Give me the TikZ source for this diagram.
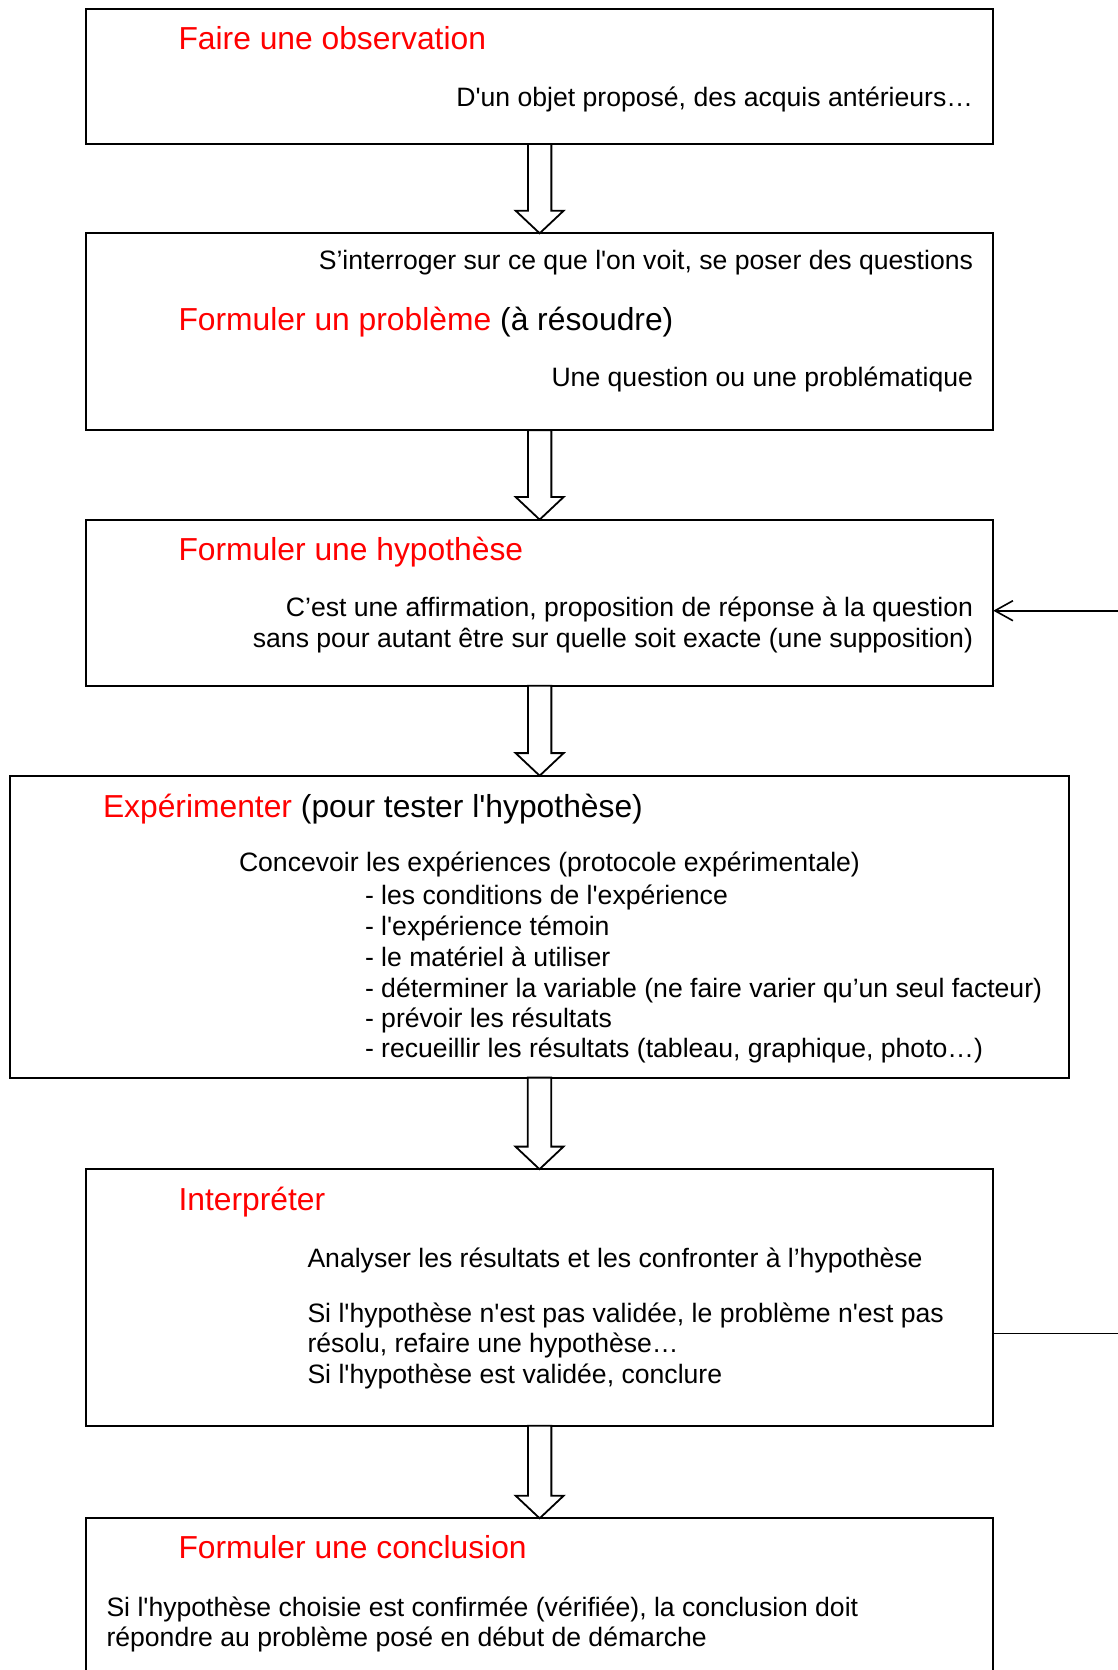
\documentclass[tikz,border=0pt]{standalone}
\usepackage{fontspec}
\setmainfont{Liberation Sans}[Ligatures=TeXOff]
\usetikzlibrary{arrows.meta,calc}
\tikzset{
  box/.style={draw,line width=1pt,rectangle,inner sep=0pt,outer sep=0pt,minimum width=453.65pt},
  txt/.style={inner sep=0pt,outer sep=0pt,font=\fontsize{13.3pt}{15.45pt}\selectfont},
  hd/.style={inner sep=0pt,outer sep=0pt,font=\fontsize{15.9pt}{19pt}\selectfont},
  barrow/.style={draw,line width=0.9pt,fill=white,line join=miter},
  fb/.style={line width=0.8pt}
}
\newcommand\blockarrow[2]{%
  \draw[barrow] let \p1=(#1.south), \p2=(#2.north) in
  (\x1-5.85pt,\y1) -- (\x1-5.85pt,\y2+11.3pt) -- (\x1-12pt,\y2+11.3pt) -- (\x1,\y2)
  -- (\x1+12pt,\y2+11.3pt) -- (\x1+5.85pt,\y2+11.3pt) -- (\x1+5.85pt,\y1) -- cycle;}
\begin{document}
\begin{tikzpicture}[x=0.5pt,y=-0.5pt]
\clip (0,0) rectangle (1118,1670);
\fill[white] (0,0) rectangle (1118,1670);
% boxes
\node[box,minimum height=67.5pt] (b1) at (539.65,76.5) {};
\node[box,minimum height=98.45pt] (b2) at (539.65,331.75) {};
\node[box,minimum height=83.05pt] (b3) at (539.65,602.65) {};
\node[box,minimum width=529.5pt,minimum height=150.95pt] (b4) at (539.5,926.65) {};
\node[box,minimum height=128.3pt] (b5) at (539.65,1297.5) {};
\node[box,minimum height=90.85pt] (b6) at (539.65,1609.15) {};
% block arrows
\blockarrow{b1}{b2}
\blockarrow{b2}{b3}
\blockarrow{b3}{b4}
\blockarrow{b4}{b5}
\blockarrow{b5}{b6}
% feedback
\coordinate (fbA) at (1125,610.7);
\coordinate (fbB) at (1125,1333.3);
\draw[fb,-{Straight Barb[length=9pt,width=10pt]}] (fbA) -- (fbA -| b3.east);
\draw[fb] (fbB) -- (fbB -| b5.east);
% box 1
\node[hd,anchor=base west,text=red] (t1a) at (178.5,49.5) {Faire une observation};
\node[txt,anchor=base east] (t1b) at (973,106.5) {D'un objet proposé, des acquis antérieurs…};
% box 2
\node[txt,anchor=base east] (t2a) at (973,269.3) {S’interroger sur ce que l'on voit, se poser des questions};
\node[hd,anchor=base west] (t2b) at (178.5,330.5) {\textcolor{red}{Formuler un problème} (à résoudre)};
\node[txt,anchor=base east] (t2c) at (973,386.5) {Une question ou une problématique};
% box 3
\node[hd,anchor=base west,text=red] (t3a) at (178.5,560.5) {Formuler une hypothèse};
\node[txt,anchor=base east] (t3b) at (973,616.5) {C’est une affirmation, proposition de réponse à la question};
\node[txt,anchor=base east] (t3c) at (973,647) {sans pour autant être sur quelle soit exacte (une supposition)};
% box 4
\node[hd,anchor=base west] (t4a) at (103,817) {\textcolor{red}{Expérimenter} (pour tester l'hypothèse)};
\node[txt,anchor=base west] (t4b) at (239,871) {Concevoir les expériences (protocole expérimentale)};
\node[txt,anchor=base west] (t4c) at (365,904) {- les conditions de l'expérience};
\node[txt,anchor=base west] (t4d) at (365,935) {- l'expérience témoin};
\node[txt,anchor=base west] (t4e) at (365,966) {- le matériel à utiliser};
\node[txt,anchor=base west] (t4f) at (365,997) {- déterminer la variable (ne faire varier qu’un seul facteur)};
\node[txt,anchor=base west] (t4g) at (365,1027) {- prévoir les résultats};
\node[txt,anchor=base west] (t4h) at (365,1057) {- recueillir les résultats (tableau, graphique, photo…)};
% box 5
\node[hd,anchor=base west,text=red] (t5a) at (178.5,1210) {Interpréter};
\node[txt,anchor=base west] (t5b) at (307.5,1267) {Analyser les résultats et les confronter à l’hypothèse};
\node[txt,anchor=base west] (t5c) at (307.5,1322.4) {Si l'hypothèse n'est pas validée, le problème n'est pas};
\node[txt,anchor=base west] (t5d) at (307.5,1352.2) {résolu, refaire une hypothèse…};
\node[txt,anchor=base west] (t5e) at (307.5,1383.1) {Si l'hypothèse est validée, conclure};
% box 6
\node[hd,anchor=base west,text=red] (t6a) at (178.5,1558) {Formuler une conclusion};
\node[txt,anchor=base west] (t6b) at (106.5,1616.3) {Si l'hypothèse choisie est confirmée (vérifiée), la conclusion doit};
\node[txt,anchor=base west] (t6c) at (106.5,1646.1) {répondre au problème posé en début de démarche};
\end{tikzpicture}
\end{document}
